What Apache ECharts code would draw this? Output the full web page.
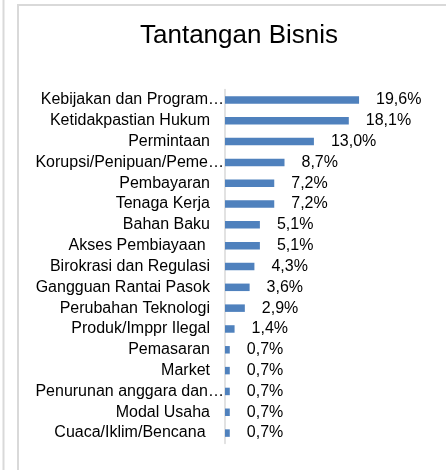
<!DOCTYPE html>
<html>
<head>
<meta charset="utf-8">
<script src="https://cdn.jsdelivr.net/npm/echarts@6/dist/echarts.min.js"></script>
<style>
  html, body { margin: 0; padding: 0; background: #fff; }
  #chart { width: 446px; height: 470px; }
</style>
</head>
<body>
<div id="chart"></div>
<script>
// categories as shown in the picture (long ones are cut off there)
var categories = [
    'Kebijakan dan Program…',
    'Ketidakpastian Hukum',
    'Permintaan',
    'Korupsi/Penipuan/Peme…',
    'Pembayaran',
    'Tenaga Kerja',
    'Bahan Baku',
    'Akses Pembiayaan ',
    'Birokrasi dan Regulasi',
    'Gangguan Rantai Pasok',
    'Perubahan Teknologi',
    'Produk/Imppr Ilegal',
    'Pemasaran',
    'Market',
    'Penurunan anggara dan…',
    'Modal Usaha',
    'Cuaca/Iklim/Bencana '
];
var values = [19.6, 18.1, 13.0, 8.7, 7.2, 7.2, 5.1, 5.1, 4.3, 3.6, 2.9, 1.4, 0.7, 0.7, 0.7, 0.7, 0.7];
var truncated = [0, 3, 14];

var chart = echarts.init(document.getElementById('chart'));

var option = {
    animation: false,
    backgroundColor: '#fff',
    textStyle: { fontFamily: 'Liberation Sans, Arial, sans-serif' },
    graphic: [
        { type: 'line', shape: { x1: 3.5, y1: 0, x2: 3.5, y2: 470 }, style: { stroke: '#d9d9d9', lineWidth: 2 } },
        { type: 'rect', shape: { x: 18, y: 5, width: 440, height: 480 }, style: { fill: null, stroke: '#d9d9d9', lineWidth: 2 } }
    ],
    title: {
        text: 'Tantangan Bisnis',
        left: 140,
        top: 23,
        padding: 0,
        textStyle: { fontSize: 26, fontWeight: 'normal', color: '#000' }
    },
    grid: {
        left: 225,
        top: 89.5,
        width: 171,
        height: 354
    },
    xAxis: {
        type: 'value',
        min: 0,
        max: 25,
        show: false
    },
    yAxis: {
        type: 'category',
        inverse: true,
        data: categories,
        axisLine: { lineStyle: { color: '#d9d9d9', width: 1.5 } },
        axisTick: { show: false },
        axisLabel: {
            margin: 1,
            fontSize: 16,
            color: '#000',
            interval: 0,
            formatter: function (value, index) {
                if (truncated.indexOf(index) >= 0) {
                    return '{t|' + value + '}';
                }
                return '{n|' + value + '}';
            },
            rich: {
                n: { fontSize: 16, color: '#000', padding: [0, 14, 0, 0] },
                t: { fontSize: 16, color: '#000' }
            }
        }
    },
    series: [{
        type: 'bar',
        data: values,
        barWidth: 7.5,
        itemStyle: { color: '#4f81bd' },
        label: {
            show: true,
            position: 'right',
            distance: 17,
            fontSize: 16,
            color: '#000',
            formatter: function (p) {
                return p.value.toFixed(1).replace('.', ',') + '%';
            }
        }
    }]
};

option && chart.setOption(option);
</script>
</body>
</html>
